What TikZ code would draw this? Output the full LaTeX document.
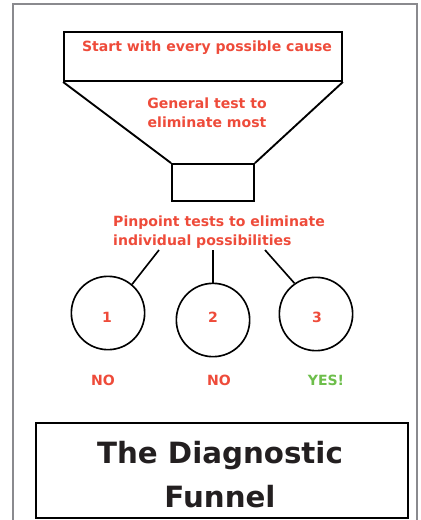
\documentclass[tikz,border=0pt]{standalone}
\usepackage{fontspec}
\setmainfont{DejaVu Sans}
\definecolor{funred}{HTML}{EE4B3A}
\definecolor{fungreen}{HTML}{6DBE4B}
\definecolor{fundark}{HTML}{231F20}
\definecolor{frame}{HTML}{8A8A8E}

\begin{document}
\begin{tikzpicture}[x=0.03cm,y=-0.03cm,
    lbl/.style={text=funred,font=\bfseries\fontsize{12}{16.5}\selectfont,align=center,inner sep=0pt},
    ball/.style={circle,draw,line width=1.4pt,minimum size=2.2cm,inner sep=0pt},
    boxed/.style={draw,line width=1.6pt,inner sep=0pt}]
          \useasboundingbox (0,0) rectangle (421,520);
          \draw[frame,line width=1.6pt] (13,525) -- (13,4) -- (417,4) -- (417,525);

          % funnel
          \node[boxed,minimum width=278*0.03cm,minimum height=49*0.03cm] (top) at (203,56.5) {};
          \node[boxed,minimum width=82*0.03cm,minimum height=37*0.03cm] (neck) at (213,182.5) {};
          \draw[line width=1.6pt] (top.south west) -- (neck.north west);
          \draw[line width=1.6pt] (top.south east) -- (neck.north east);
          \node[lbl] (start) at (207,48) {Start with every possible cause};
          \node[lbl] (general) at (207,112.5) {General test to\\eliminate most};
          \node[lbl,align=left,anchor=west] (pinpoint) at (113,232) {Pinpoint tests to eliminate\\individual possibilities};

          % tests
          \node[ball] (c1) at (108,313) {};
          \node[ball] (c2) at (213,320) {};
          \node[ball] (c3) at (316,314) {};
          \node[lbl] (n1) at (107,317) {1};
          \node[lbl] (n2) at (213,317) {2};
          \node[lbl] (n3) at (317,317) {3};
          \coordinate (p1) at (159,250);
          \coordinate (p2) at (213,250);
          \coordinate (p3) at (265,250);
          \draw[line width=1.4pt] (p1) -- (c1.50);
          \draw[line width=1.4pt] (p2) -- (c2.north);
          \draw[line width=1.4pt] (p3) -- (c3.125);

          \node[lbl] (no1) at (103,380) {NO};
          \node[lbl] (no2) at (219,380) {NO};
          \node[lbl,text=fungreen] (yes) at (326,380) {YES!};

          % title
          \node[boxed,minimum width=372*0.03cm,minimum height=95*0.03cm] (title) at (222,470.5) {};
          \node[text=fundark,font=\bfseries\fontsize{25}{37.5}\selectfont,align=center] (name) at (220,475) {The Diagnostic\\Funnel};
        \end{tikzpicture}
\end{document}
